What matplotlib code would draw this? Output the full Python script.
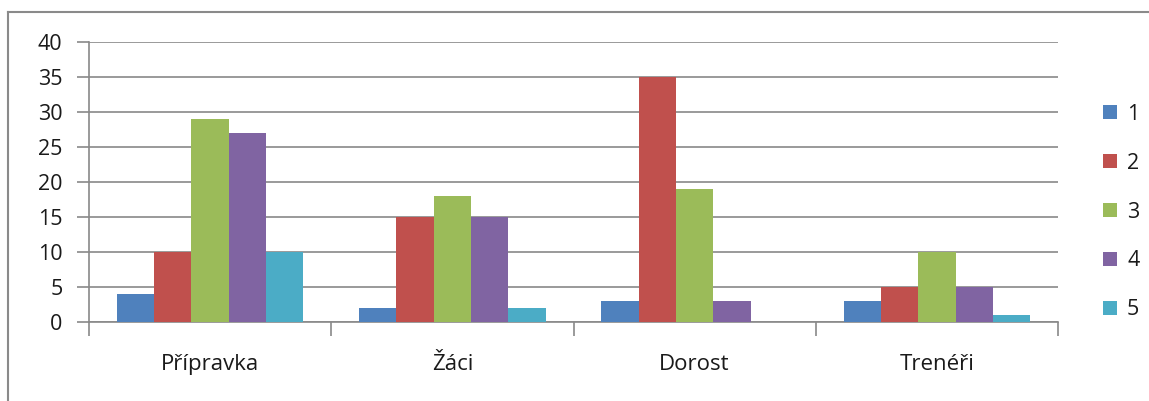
import numpy as np
import matplotlib.pyplot as plt
from matplotlib.patches import Patch
from matplotlib.lines import Line2D

categories = ["Přípravka", "Žáci", "Dorost", "Trenéři"]
series_names = ["1", "2", "3", "4", "5"]
values_1 = [4, 2, 3, 3]
values_2 = [10, 15, 35, 5]
values_3 = [29, 18, 19, 10]
values_4 = [27, 15, 3, 5]
values_5 = [10, 2, 0, 1]
series_values = [values_1, values_2, values_3, values_4, values_5]
colors = ["#4F81BD", "#C0504D", "#9BBB59", "#8064A2", "#4BACC6"]

plt.rcParams['font.family'] = ['Open Sans', 'DejaVu Sans']
grid_c = "#898989"
txt_c = "#1a1a1a"

fig = plt.figure(figsize=(11.49, 4.01), dpi=100)
ax = fig.add_axes([89 / 1149, 1 - 322 / 401, (1058 - 89) / 1149, 280 / 401])

# chart frame (top and left edges visible)
fig.add_artist(Line2D([8 / 1149, 1], [1 - 12 / 401, 1 - 12 / 401], transform=fig.transFigure,
                      color="#8a8a8a", lw=1.5))
fig.add_artist(Line2D([8 / 1149, 8 / 1149], [0, 1 - 12 / 401], transform=fig.transFigure,
                      color="#8a8a8a", lw=1.5))

x = np.arange(len(categories))
w = 1 / 6.5
for i, vals in enumerate(series_values):
    ax.bar(x + (i - 2) * w, vals, width=w, color=colors[i], label=series_names[i], zorder=3)

ax.set_xlim(-0.5, len(categories) - 0.5)
ax.set_ylim(0, 40)
ax.set_yticks(range(0, 41, 5))
ax.yaxis.grid(True, color=grid_c, lw=1.2, zorder=0)
for s in ["top", "right"]:
    ax.spines[s].set_visible(False)
ax.spines["left"].set_color(grid_c)
ax.spines["bottom"].set_color(grid_c)
ax.spines["left"].set_linewidth(1.2)
ax.spines["bottom"].set_linewidth(1.2)

ax.set_xticks(x)
ax.set_xticklabels(categories)
ax.set_xticks(np.arange(-0.5, len(categories)), minor=True)
ax.tick_params(axis="x", which="major", length=0, pad=23, labelsize=16, labelcolor=txt_c)
ax.tick_params(axis="x", which="minor", length=10, width=1.2, color=grid_c)
ax.tick_params(axis="y", length=9, width=1.2, color=grid_c, labelsize=15.5, labelcolor=txt_c, pad=10)

handles = [Patch(facecolor=c, edgecolor="none") for c in colors]
fig.legend(handles, series_names, loc="center left", bbox_to_anchor=(1084 / 1149, 1 - 212 / 401),
           frameon=False, fontsize=15.5, handlelength=0.65, handleheight=0.65,
           handletextpad=0.45, labelspacing=1.3, labelcolor=txt_c)

fig.savefig("out.png", dpi=100)
